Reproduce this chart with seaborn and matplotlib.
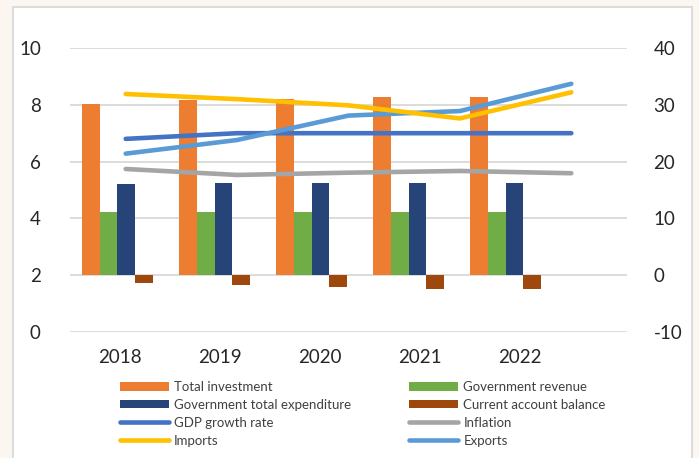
import matplotlib
matplotlib.use("Agg")
import matplotlib.pyplot as plt
from matplotlib.patches import Rectangle, Patch
from matplotlib.lines import Line2D
import numpy as np
import pandas as pd
import seaborn as sns

# ---- data -------------------------------------------------------------
years = [2018, 2019, 2020, 2021, 2022]

total_investment = [30.2, 30.9, 31.1, 31.3, 31.3]
government_revenue = [11.1, 11.1, 11.15, 11.15, 11.15]
government_expenditure = [16.1, 16.2, 16.3, 16.3, 16.3]
current_account_balance = [-1.35, -1.75, -2.1, -2.35, -2.5]

gdp_growth_rate = [6.8, 7.0, 7.0, 7.0, 7.0]
inflation = [5.74, 5.53, 5.61, 5.67, 5.59]
imports = [31.9, 31.0, 29.9, 27.6, 32.2]
exports = [21.4, 23.8, 28.1, 28.9, 33.7]

left_ticks = [0, 2, 4, 6, 8, 10]
right_ticks = [-10, 0, 10, 20, 30, 40]

bar_series = ["Total investment", "Government revenue",
              "Government total expenditure", "Current account balance"]
bar_values = [total_investment, government_revenue,
              government_expenditure, current_account_balance]
bar_colors = ["#ED7D31", "#70AD47", "#264478", "#9E480E"]

line_colors = {"GDP growth rate": "#4472C4", "Inflation": "#A5A5A5",
               "Imports": "#FFC000", "Exports": "#5B9BD5"}

bars_df = pd.DataFrame({
    "year": np.repeat([years], len(bar_series), axis=0).ravel(),
    "value": np.concatenate(bar_values),
    "series": np.repeat(bar_series, len(years)),
})
left_df = pd.DataFrame({
    "year": years * 2,
    "value": gdp_growth_rate + inflation,
    "series": ["GDP growth rate"] * 5 + ["Inflation"] * 5,
})
right_df = pd.DataFrame({
    "year": years * 2,
    "value": imports + exports,
    "series": ["Imports"] * 5 + ["Exports"] * 5,
})

# ---- figure -----------------------------------------------------------
sns.set_style("white")
plt.rcParams["font.family"] = ["Lato", "DejaVu Sans"]
text_color = "#262626"

W, H = 699, 458
fig = plt.figure(figsize=(W / 100, H / 100), dpi=100, facecolor="#fcf6f1")
fig.patches.append(Rectangle((13 / W, -0.05), (692 - 13) / W, 1.05 - 7 / H,
                             transform=fig.transFigure, facecolor="white",
                             edgecolor="#d9d9d9", linewidth=1.3, zorder=0))

rect = [70 / W, 1 - 332 / H, (627 - 70) / W, (332 - 48) / H]

# bars (right-hand scale) with gridlines and year labels
ax_bar = fig.add_axes(rect, zorder=1)
ax_bar.set_facecolor("none")
sns.barplot(data=bars_df, x="year", y="value", hue="series",
            hue_order=bar_series, palette=bar_colors, native_scale=True,
            width=0.729, gap=0, saturation=1, legend=False, ax=ax_bar,
            edgecolor="none", linewidth=0)
ax_bar.set_xlim(2017.511, 2023.25)
ax_bar.set_ylim(-10, 40)
ax_bar.yaxis.tick_right()
ax_bar.set_yticks(right_ticks)
ax_bar.set_yticklabels([str(t) for t in right_ticks])
ax_bar.grid(axis="y", color="#d9d9d9", linewidth=1.3)
ax_bar.set_axisbelow(True)
offsets = np.arange(len(years)) * 0.031 + 0.026
ax_bar.set_xticks(np.array(years) + offsets)
ax_bar.set_xticklabels([str(y) for y in years])
ax_bar.tick_params(axis="x", length=0, pad=12, labelsize=13.5, labelcolor=text_color)
ax_bar.tick_params(axis="y", length=0, pad=19, labelsize=13.5, labelcolor=text_color)
ax_bar.set_xlabel("")
ax_bar.set_ylabel("")
for s in ax_bar.spines.values():
    s.set_visible(False)

# lines on the left-hand scale
ax_left = fig.add_axes(rect, zorder=2)
ax_left.set_facecolor("none")
sns.lineplot(data=left_df, x="year", y="value", hue="series",
             palette=line_colors, linewidth=3.3, legend=False, ax=ax_left,
             solid_capstyle="round")
ax_left.set_xlim(2017.5, 2022.5)
ax_left.set_ylim(0, 10)
ax_left.set_yticks(left_ticks)
ax_left.set_yticklabels([str(t) for t in left_ticks])
ax_left.set_xticks([])
ax_left.tick_params(axis="y", length=0, pad=21, labelsize=13.5, labelcolor=text_color)
ax_left.set_xlabel("")
ax_left.set_ylabel("")
for s in ax_left.spines.values():
    s.set_visible(False)

# lines on the right-hand scale
ax_right = fig.add_axes(rect, zorder=3)
ax_right.set_facecolor("none")
sns.lineplot(data=right_df, x="year", y="value", hue="series",
             hue_order=["Exports", "Imports"],
             palette=line_colors, linewidth=3.3, legend=False, ax=ax_right,
             solid_capstyle="round")
ax_right.set_xlim(2017.5, 2022.5)
ax_right.set_ylim(-10, 40)
ax_right.set_xticks([])
ax_right.set_yticks([])
ax_right.set_xlabel("")
ax_right.set_ylabel("")
for s in ax_right.spines.values():
    s.set_visible(False)

# legend, filled row by row in two columns
def bar_handle(c):
    return Patch(facecolor=c, edgecolor="none")

def line_handle(c):
    return Line2D([0], [0], color=c, linewidth=3.3, solid_capstyle="round")

col1 = [("Total investment", bar_handle(bar_colors[0])),
        ("Government total expenditure", bar_handle(bar_colors[2])),
        ("GDP growth rate", line_handle(line_colors["GDP growth rate"])),
        ("Imports", line_handle(line_colors["Imports"]))]
col2 = [("Government revenue", bar_handle(bar_colors[1])),
        ("Current account balance", bar_handle(bar_colors[3])),
        ("Inflation", line_handle(line_colors["Inflation"])),
        ("Exports", line_handle(line_colors["Exports"]))]
entries = col1 + col2
leg = fig.legend([h for _, h in entries], [l for l, _ in entries],
                 ncols=2, loc="upper left",
                 bbox_to_anchor=(120 / W, 1 - 381 / H),
                 frameon=False, fontsize=9.5, handlelength=3.7,
                 handleheight=0.6, handletextpad=0.4, columnspacing=4.4,
                 labelspacing=0.45, borderaxespad=0, borderpad=0)
for t in leg.get_texts():
    t.set_color("#404040")

fig.savefig("out.png", dpi=100, facecolor=fig.get_facecolor())
